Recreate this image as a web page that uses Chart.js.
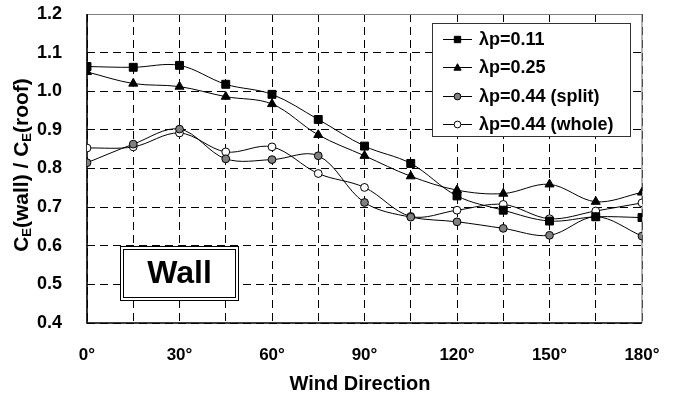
<!DOCTYPE html>
<html><head><meta charset="utf-8">
<script src="https://cdn.jsdelivr.net/npm/chart.js@4"></script>
<style>html,body{margin:0;padding:0;background:#fff}canvas{display:block}</style>
</head><body>
<canvas id="c" width="675" height="396"></canvas>
<script>
const directions = [0, 15, 30, 45, 60, 75, 90, 105, 120, 135, 150, 165, 180];
const lambda011 = [1.064, 1.062, 1.067, 1.018, 0.992, 0.927, 0.858, 0.813, 0.729, 0.692, 0.664, 0.675, 0.673];
const lambda025 = [1.050, 1.020, 1.012, 0.986, 0.967, 0.887, 0.833, 0.780, 0.744, 0.735, 0.759, 0.714, 0.738];
const lambda044split = [0.815, 0.863, 0.902, 0.825, 0.823, 0.833, 0.712, 0.674, 0.662, 0.645, 0.627, 0.675, 0.625];
const lambda044whole = [0.853, 0.856, 0.892, 0.843, 0.856, 0.787, 0.751, 0.676, 0.692, 0.707, 0.670, 0.690, 0.711];
const seriesLabels = ['λp=0.11', 'λp=0.25', 'λp=0.44 (split)', 'λp=0.44 (whole)'];
const xTitle = 'Wind Direction';
const yTitleParts = [['C', false], ['E', true], ['(wall) / C', false], ['E', true], ['(roof)', false]];
const boxLabel = 'Wall';

const FF = '"Liberation Sans", Arial, Helvetica, sans-serif';
const pts = vals => directions.map((d, i) => ({x: d, y: vals[i]}));

const styles = [
  {pointStyle: 'rect', r: 5.6, fill: '#000'},
  {pointStyle: 'triangle', r: 5.2, fill: '#000'},
  {pointStyle: 'circle', r: 3.9, fill: '#808080'},
  {pointStyle: 'circle', r: 3.9, fill: '#ffffff'}
];
const allVals = [lambda011, lambda025, lambda044split, lambda044whole];

const datasets = allVals.map((v, i) => ({
  label: seriesLabels[i],
  data: pts(v),
  borderColor: '#000',
  borderWidth: 1,
  pointStyle: styles[i].pointStyle,
  pointRadius: styles[i].r,
  pointBackgroundColor: styles[i].fill,
  pointBorderColor: '#000',
  pointBorderWidth: 1,
  tension: 0.35,
  fill: false
}));

function marker(ctx, style, x, y, r, fill) {
  ctx.save();
  ctx.fillStyle = fill; ctx.strokeStyle = '#000'; ctx.lineWidth = 1;
  ctx.beginPath();
  if (style === 'rect') {
    ctx.rect(x - r, y - r, 2 * r, 2 * r);
  } else if (style === 'triangle') {
    ctx.moveTo(x, y - r * 1.05);
    ctx.lineTo(x + r, y + r * 0.75);
    ctx.lineTo(x - r, y + r * 0.75);
    ctx.closePath();
  } else {
    ctx.arc(x, y, r, 0, Math.PI * 2);
  }
  ctx.fill(); ctx.stroke();
  ctx.restore();
}

const zeroPad = s => { s.paddingTop = 0; s.paddingBottom = 0; s.paddingLeft = 0; s.paddingRight = 0; };

const decor = {
  id: 'decor',
  beforeDatasetsDraw(chart) {
    const {ctx, chartArea: a} = chart;
    ctx.save();
    ctx.strokeStyle = '#808080'; ctx.lineWidth = 1.2;
    ctx.beginPath();
    ctx.moveTo(a.left, a.top + 0.5); ctx.lineTo(a.right, a.top + 0.5);
    ctx.moveTo(a.right, a.top); ctx.lineTo(a.right, a.bottom);
    ctx.stroke();
    ctx.strokeStyle = '#000'; ctx.lineWidth = 1.6;
    ctx.beginPath();
    ctx.moveTo(a.left, a.top); ctx.lineTo(a.left, a.bottom);
    ctx.lineTo(a.right, a.bottom);
    ctx.stroke();
    ctx.restore();
  },
  afterDraw(chart) {
    const {ctx} = chart;
    ctx.save();
    // Wall box
    ctx.fillStyle = '#fff';
    ctx.fillRect(120, 246, 119, 55);
    ctx.strokeStyle = '#000'; ctx.lineWidth = 1;
    ctx.strokeRect(120.5, 246.5, 118, 54);
    ctx.strokeRect(123.5, 249.5, 112, 48);
    ctx.fillStyle = '#000';
    ctx.font = 'bold 32px ' + FF;
    ctx.textAlign = 'center'; ctx.textBaseline = 'middle';
    ctx.fillText(boxLabel, 179.5, 274);

    // Legend
    ctx.fillStyle = '#fff';
    ctx.fillRect(432, 23, 199, 114);
    ctx.strokeStyle = '#333'; ctx.lineWidth = 1;
    ctx.strokeRect(432.5, 23.5, 198, 113);
    const rows = [39, 67, 96, 124];
    const lr = [3.2, 3.6, 3.4, 3.4];
    ctx.font = 'bold 18px ' + FF;
    ctx.textAlign = 'left'; ctx.textBaseline = 'middle';
    rows.forEach((y, i) => {
      ctx.strokeStyle = '#000'; ctx.lineWidth = 1;
      ctx.beginPath(); ctx.moveTo(443, y + 0.5); ctx.lineTo(472, y + 0.5); ctx.stroke();
      marker(ctx, styles[i].pointStyle, 457.5, y + 0.5, lr[i], styles[i].fill);
      ctx.fillStyle = '#000';
      ctx.fillText(seriesLabels[i], 479, y + 1);
    });

    // X title
    ctx.font = 'bold 20px ' + FF;
    ctx.textAlign = 'center'; ctx.textBaseline = 'middle';
    ctx.fillStyle = '#000';
    ctx.fillText(xTitle, 360, 384);

    // Y title with subscripts
    ctx.translate(21, 165);
    ctx.rotate(-Math.PI / 2);
    const mainF = 'bold 21px ' + FF, subF = 'bold 13px ' + FF;
    let total = 0;
    yTitleParts.forEach(([t, sub]) => { ctx.font = sub ? subF : mainF; total += ctx.measureText(t).width; });
    let x = -total / 2;
    ctx.textAlign = 'left'; ctx.textBaseline = 'alphabetic';
    yTitleParts.forEach(([t, sub]) => {
      ctx.font = sub ? subF : mainF;
      ctx.fillText(t, x, sub ? 10 : 7);
      x += ctx.measureText(t).width;
    });
    ctx.restore();
  }
};

new Chart(document.getElementById('c'), {
  type: 'line',
  data: {datasets},
  options: {
    responsive: false,
    animation: false,
    devicePixelRatio: 1,
    layout: {padding: {left: 0, right: 33, top: 14, bottom: 0}},
    plugins: {legend: {display: false}, tooltip: {enabled: false}, title: {display: false}},
    scales: {
      x: {
        type: 'linear', min: 0, max: 180,
        afterFit: s => { s.height = 73; zeroPad(s); },
        afterBuildTicks: s => { s.ticks = directions.map(v => ({value: v})); },
        ticks: {
          autoSkip: false, maxRotation: 0, padding: 22,
          color: '#000', font: {family: FF, size: 17, weight: 'bold'},
          callback: v => (v % 30 === 0 ? v + '°' : '')
        },
        grid: {color: '#000', lineWidth: 1, drawTicks: false},
        border: {display: false, dash: [8, 5]}
      },
      y: {
        min: 0.4, max: 1.2,
        afterFit: s => { s.width = 87; zeroPad(s); },
        ticks: {
          stepSize: 0.1, padding: 25,
          color: '#000', font: {family: FF, size: 18, weight: 'bold'},
          callback: v => Number(v).toFixed(1)
        },
        grid: {color: '#000', lineWidth: 1, drawTicks: false},
        border: {display: false, dash: [8, 5]}
      }
    }
  },
  plugins: [decor]
});
</script>
</body></html>
